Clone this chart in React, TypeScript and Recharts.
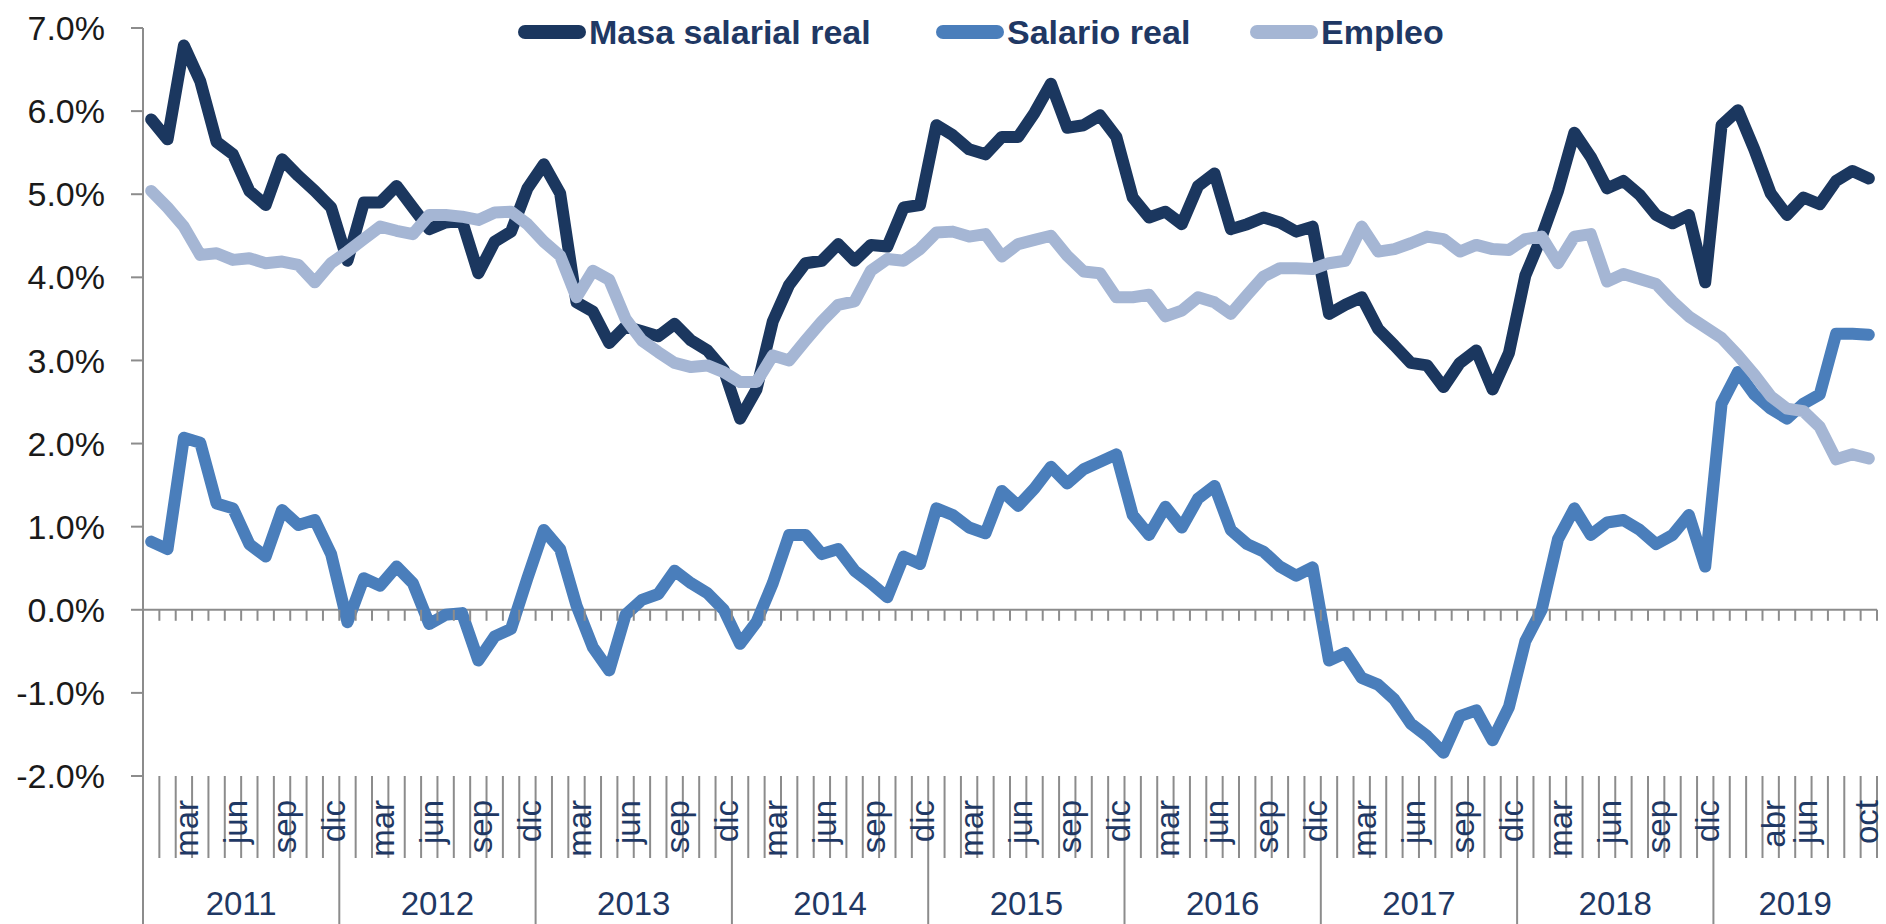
import { Line, LineChart, ReferenceLine, XAxis, YAxis } from 'recharts';

// categories
const MONTHS = ['ene', 'feb', 'mar', 'abr', 'may', 'jun', 'jul', 'ago', 'sep', 'oct', 'nov', 'dic'];
const YEARS = ['2011', '2012', '2013', '2014', '2015', '2016', '2017', '2018', '2019'];
const LABELED_MONTHS = ['mar', 'jun', 'sep', 'dic'];
const LABELED_MONTHS_2019 = ['abr', 'jun', 'oct'];
const Y_TICKS = [-2, -1, 0, 1, 2, 3, 4, 5, 6, 7];

// series values, % y/y, ene 2011 - oct 2019
const masaSalarialReal = [
  5.9, 5.66, 6.79, 6.36, 5.63, 5.48, 5.04, 4.87, 5.42, 5.22, 5.04, 4.84,
  4.2, 4.9, 4.9, 5.1, 4.84, 4.58, 4.66, 4.68, 4.05, 4.43, 4.55, 5.07,
  5.36, 5.01, 3.7, 3.59, 3.21, 3.41, 3.35, 3.29, 3.44, 3.24, 3.12, 2.89,
  2.3, 2.65, 3.47, 3.91, 4.17, 4.2, 4.4, 4.2, 4.39, 4.37, 4.84, 4.87,
  5.83, 5.71, 5.54, 5.48, 5.69, 5.69, 5.98, 6.33, 5.8, 5.83, 5.95, 5.69,
  4.96, 4.72, 4.79, 4.64, 5.1, 5.25, 4.58, 4.64, 4.72, 4.66, 4.55, 4.61,
  3.56, 3.67, 3.76, 3.38, 3.18, 2.97, 2.94, 2.68, 2.97, 3.12, 2.65, 3.09,
  4.02, 4.49, 5.04, 5.74, 5.45, 5.07, 5.16, 4.99, 4.75, 4.65, 4.75, 3.94,
  5.83, 6.01, 5.54, 5.01, 4.75, 4.96, 4.88, 5.16, 5.28, 5.19,
];

const salarioReal = [
  0.82, 0.73, 2.07, 2.01, 1.28, 1.22, 0.79, 0.64, 1.2, 1.02, 1.08, 0.67,
  -0.15, 0.38, 0.29, 0.52, 0.32, -0.17, -0.06, -0.04, -0.61, -0.32, -0.23, 0.38,
  0.96, 0.73, 0.05, -0.45, -0.73, -0.06, 0.12, 0.19, 0.47, 0.32, 0.2, 0.0,
  -0.41, -0.15, 0.32, 0.9, 0.9, 0.67, 0.73, 0.47, 0.32, 0.15, 0.64, 0.55,
  1.22, 1.14, 0.99, 0.92, 1.43, 1.25, 1.46, 1.72, 1.52, 1.69, 1.78, 1.87,
  1.14, 0.9, 1.24, 0.99, 1.34, 1.49, 0.96, 0.79, 0.7, 0.52, 0.41, 0.51,
  -0.61, -0.52, -0.82, -0.9, -1.08, -1.37, -1.52, -1.72, -1.28, -1.21, -1.57, -1.17,
  -0.38, 0.0, 0.85, 1.22, 0.9, 1.05, 1.08, 0.96, 0.79, 0.9, 1.14, 0.52,
  2.48, 2.86, 2.59, 2.42, 2.3, 2.48, 2.59, 3.32, 3.32, 3.31,
];

const empleo = [
  5.04, 4.84, 4.61, 4.27, 4.29, 4.21, 4.23, 4.17, 4.19, 4.15, 3.94, 4.17,
  4.31, 4.46, 4.61, 4.56, 4.52, 4.75, 4.75, 4.73, 4.69, 4.78, 4.79, 4.64,
  4.43, 4.26, 3.76, 4.08, 3.97, 3.5, 3.24, 3.1, 2.97, 2.92, 2.94, 2.86,
  2.74, 2.74, 3.06, 3.0, 3.24, 3.47, 3.67, 3.71, 4.08, 4.22, 4.2, 4.34,
  4.54, 4.55, 4.49, 4.52, 4.25, 4.4, 4.45, 4.5, 4.26, 4.07, 4.05, 3.76,
  3.76, 3.79, 3.53, 3.6, 3.76, 3.7, 3.56, 3.79, 4.01, 4.11, 4.11, 4.1,
  4.17, 4.2, 4.61, 4.31, 4.34, 4.41, 4.49, 4.46, 4.31, 4.39, 4.34, 4.33,
  4.46, 4.49, 4.17, 4.49, 4.52, 3.95, 4.04, 3.98, 3.92, 3.71, 3.53, 3.4,
  3.27, 3.06, 2.83, 2.57, 2.42, 2.39, 2.2, 1.81, 1.87, 1.82,
];

const SERIES = [
  { key: 'masa', name: 'Masa salarial real', color: '#1B375F' },
  { key: 'salario', name: 'Salario real', color: '#4A7EBB' },
  { key: 'empleo', name: 'Empleo', color: '#A5B6D4' },
];

const data = masaSalarialReal.map((masa, i) => ({
  year: YEARS[Math.floor(i / 12)],
  month: MONTHS[i % 12],
  cat: `${MONTHS[i % 12]}-${YEARS[Math.floor(i / 12)]}`,
  masa,
  salario: salarioReal[i],
  empleo: empleo[i],
}));

// layout
const W = 1886;
const H = 924;
const PLOT_LEFT = 143;
const PLOT_RIGHT = 1877;
const PLOT_TOP = 28;
const PLOT_BOTTOM = 776;
const MONTH_LINE_BOTTOM = 858;
const BW = (PLOT_RIGHT - PLOT_LEFT) / data.length;
const ZERO_Y = PLOT_TOP + ((PLOT_BOTTOM - PLOT_TOP) * 7) / 9;
const AXIS = '#8C8C8C';
const NAVY = '#1F3864';
const FONT = '"Liberation Sans", Arial, sans-serif';
const LEGEND_X = [518, 936, 1250];

function MonthTick(props: any) {
  const { x, index } = props;
  const d = data[index];
  if (!d) return null;
  const xl = x - BW / 2;
  const xr = x + BW / 2;
  const yearEnd = index % 12 === 11;
  const labels = d.year === '2019' ? LABELED_MONTHS_2019 : LABELED_MONTHS;
  const monthsInYear = data.filter((r) => r.year === d.year).length;
  // keep the last rotated label inside the picture
  const lx = Math.min(x + 14, W - 8);
  return (
    <g>
      <line x1={xr} x2={xr} y1={ZERO_Y} y2={ZERO_Y + 11} stroke={AXIS} strokeWidth={2} />
      <line x1={xr} x2={xr} y1={PLOT_BOTTOM} y2={yearEnd ? H : MONTH_LINE_BOTTOM} stroke={AXIS} strokeWidth={2} />
      {index === 0 && <line x1={xl} x2={xl} y1={PLOT_BOTTOM} y2={H} stroke={AXIS} strokeWidth={2} />}
      {labels.includes(d.month) && (
        <text
          x={lx}
          y={800}
          transform={`rotate(-90, ${lx}, 800)`}
          textAnchor="end"
          fill={NAVY}
          fontSize={33}
          fontFamily={FONT}
        >
          {d.month}
        </text>
      )}
      {index % 12 === 0 && (
        <text x={xl + (monthsInYear * BW) / 2} y={915} textAnchor="middle" fill={NAVY} fontSize={33} fontFamily={FONT}>
          {d.year}
        </text>
      )}
    </g>
  );
}

export default function App() {
  return (
    <div style={{ position: 'absolute', left: 0, top: 0, width: W, height: H, background: '#fff' }}>
      <LineChart
        width={W}
        height={H}
        data={data}
        margin={{ top: PLOT_TOP, right: W - PLOT_RIGHT, left: 0, bottom: 0 }}
      >
        <XAxis
          dataKey="cat"
          height={H - PLOT_BOTTOM}
          interval={0}
          padding={{ left: BW / 2, right: BW / 2 }}
          axisLine={false}
          tickLine={false}
          tickSize={0}
          tick={(p: any) => <MonthTick {...p} />}
        />
        <YAxis
          width={PLOT_LEFT}
          domain={[-2, 7]}
          ticks={Y_TICKS}
          interval={0}
          tickSize={12}
          tickMargin={26}
          axisLine={{ stroke: AXIS, strokeWidth: 2 }}
          tickLine={{ stroke: AXIS, strokeWidth: 2 }}
          tick={{ fill: '#1a1a1a', fontSize: 34, fontFamily: FONT }}
          tickFormatter={(v: number) => `${v.toFixed(1)}%`}
        />
        <ReferenceLine y={0} stroke={AXIS} strokeWidth={2} />
        {SERIES.map((s) => (
          <Line
            key={s.key}
            type="linear"
            dataKey={s.key}
            name={s.name}
            stroke={s.color}
            strokeWidth={12}
            strokeLinejoin="round"
            strokeLinecap="round"
            dot={false}
            activeDot={false}
            isAnimationActive={false}
          />
        ))}
      </LineChart>
      <svg width={W} height={60} style={{ position: 'absolute', left: 0, top: 0 }}>
        {SERIES.map((s, i) => (
          <g key={s.key}>
            <line x1={LEGEND_X[i] + 7} x2={LEGEND_X[i] + 61} y1={32} y2={32} stroke={s.color} strokeWidth={14} strokeLinecap="round" />
            <text x={LEGEND_X[i] + 71} y={44} fill={NAVY} fontSize={34} fontWeight="bold" fontFamily={FONT}>
              {s.name}
            </text>
          </g>
        ))}
      </svg>
    </div>
  );
}
